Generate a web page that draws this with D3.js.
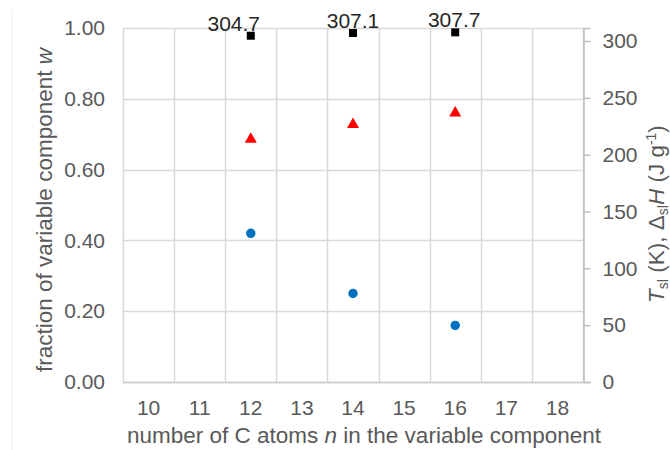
<!DOCTYPE html>
<html>
<head>
<meta charset="utf-8">
<script src="https://cdn.jsdelivr.net/npm/d3@7"></script>
<style>
  html, body { margin: 0; padding: 0; background: #fff; }
  svg { display: block; }
  text { font-family: "Liberation Sans", Arial, sans-serif; }
</style>
</head>
<body>
<svg id="chart" width="670" height="450"></svg>
<script>
// ---- data ----
const categories = [10, 11, 12, 13, 14, 15, 16, 17, 18];
const nValues = [12, 14, 16];
const fractionW = [0.42, 0.25, 0.16];
const deltaH = [215, 228, 238];
const tempT = [304.7, 307.1, 307.7];
const tempLabels = ["304.7", "307.1", "307.7"];
const leftTicks = [0, 0.2, 0.4, 0.6, 0.8, 1.0];
const rightTicks = [0, 50, 100, 150, 200, 250, 300];

// ---- layout ----
const L = 123, R = 583, T = 28, B = 382;
const FS = 21, TFS = 22.5;
const svg = d3.select("#chart");

const x = d3.scaleBand().domain(categories).range([L, R]).padding(0);
const yL = d3.scaleLinear().domain([0, 1]).range([B, T]);
const yR = d3.scaleLinear().domain([0, 311.5]).range([B, T]);

// faint frame line
svg.append("line").attr("x1", 12).attr("x2", 12).attr("y1", 10).attr("y2", 450)
  .attr("stroke", "#ececec").attr("stroke-width", 1);

// horizontal gridlines
svg.append("g").selectAll("line").data(leftTicks).join("line")
  .attr("x1", L).attr("x2", R)
  .attr("y1", d => Math.round(yL(d)) + 0.5).attr("y2", d => Math.round(yL(d)) + 0.5)
  .attr("stroke", "#d9d9d9").attr("stroke-width", 1.5);

// vertical gridlines at band edges
const edges = categories.map(c => x(c)).concat([x(categories[categories.length - 1]) + x.bandwidth()]);
svg.append("g").selectAll("line").data(edges).join("line")
  .attr("x1", d => Math.round(d) + 0.5).attr("x2", d => Math.round(d) + 0.5)
  .attr("y1", T).attr("y2", B)
  .attr("stroke", "#d9d9d9").attr("stroke-width", 1.5);

// bottom axis line
svg.append("line").attr("x1", L).attr("x2", R).attr("y1", B + 0.5).attr("y2", B + 0.5)
  .attr("stroke", "#cccccc").attr("stroke-width", 1.5);

// right axis
const rAxis = d3.axisRight(yR).tickValues(rightTicks).tickSize(7).tickPadding(12).tickFormat(d3.format("d"));
const gR = svg.append("g").attr("transform", `translate(${R + 0.5},0)`).call(rAxis);
gR.select(".domain").attr("stroke", "#bfbfbf").attr("stroke-width", 1.5);
gR.selectAll(".tick line").attr("stroke", "#bfbfbf").attr("stroke-width", 1.5);
gR.selectAll(".tick text").attr("fill", "#595959").style("font-size", FS + "px")
  .style("font-family", "'Liberation Sans', Arial, sans-serif");

// left axis labels
const lAxis = d3.axisLeft(yL).tickValues(leftTicks).tickSize(0).tickPadding(18).tickFormat(d3.format(".2f"));
const gL = svg.append("g").attr("transform", `translate(${L},0)`).call(lAxis);
gL.select(".domain").remove();
gL.selectAll(".tick text").attr("fill", "#595959").style("font-size", FS + "px")
  .style("font-family", "'Liberation Sans', Arial, sans-serif");

// bottom axis labels
const bAxis = d3.axisBottom(x).tickSize(0).tickPadding(18);
const gB = svg.append("g").attr("transform", `translate(0,${B})`).call(bAxis);
gB.select(".domain").remove();
gB.selectAll(".tick text").attr("fill", "#595959").style("font-size", FS + "px")
  .style("font-family", "'Liberation Sans', Arial, sans-serif");

// x title
const xt = svg.append("text").attr("x", 364).attr("y", 443).attr("text-anchor", "middle")
  .attr("fill", "#595959").style("font-size", TFS + "px");
xt.append("tspan").text("number of C atoms ");
xt.append("tspan").style("font-style", "italic").text("n");
xt.append("tspan").text(" in the variable component");

// left title
const yt = svg.append("text").attr("transform", "translate(52,210) rotate(-90)")
  .attr("text-anchor", "middle").attr("fill", "#595959").style("font-size", TFS + "px");
yt.append("tspan").text("fraction of variable component ");
yt.append("tspan").style("font-style", "italic").text("w");

// right title
const rt = svg.append("text").attr("transform", "translate(664,214) rotate(-90)")
  .attr("text-anchor", "middle").attr("fill", "#595959").style("font-size", TFS + "px");
rt.append("tspan").style("font-style", "italic").text("T");
rt.append("tspan").attr("dy", 4).style("font-size", "14px").text("sl");
rt.append("tspan").attr("dy", -4).text(" (K), Δ");
rt.append("tspan").attr("dy", 4).style("font-size", "14px").text("sl");
rt.append("tspan").attr("dy", -4).style("font-style", "italic").text("H");
rt.append("tspan").text(" (J g");
rt.append("tspan").attr("dy", -8).style("font-size", "14px").text("-1");
rt.append("tspan").attr("dy", 8).text(")");

// ---- marks ----
const pts = nValues.map((n, i) => ({ n, w: fractionW[i], h: deltaH[i], t: tempT[i], lab: tempLabels[i], i }));

// blue circles (left axis)
svg.append("g").selectAll("circle").data(pts).join("circle")
  .attr("cx", d => x(d.n) + x.bandwidth() / 2)
  .attr("cy", d => yL(d.w))
  .attr("r", 4.7).attr("fill", "#0070C0");

// red triangles (right axis)
svg.append("g").selectAll("path").data(pts).join("path")
  .attr("d", d => {
    const cx = x(d.n) + x.bandwidth() / 2, cy = yR(d.h);
    return `M${cx},${cy - 5.5}L${cx + 6},${cy + 5}L${cx - 6},${cy + 5}Z`;
  })
  .attr("fill", "#FF0000");

// black squares (right axis)
svg.append("g").selectAll("rect").data(pts).join("rect")
  .attr("x", d => x(d.n) + x.bandwidth() / 2 - 4)
  .attr("y", d => yR(d.t) - 4)
  .attr("width", 8).attr("height", 8).attr("fill", "#000");

// labels above squares
const labelDx = [-17, 0, -1];
svg.append("g").selectAll("text").data(pts).join("text")
  .attr("x", d => x(d.n) + x.bandwidth() / 2 + labelDx[d.i])
  .attr("y", d => yR(d.t) - 5)
  .attr("text-anchor", "middle").attr("fill", "#262626")
  .style("font-size", FS + "px")
  .text(d => d.lab);
</script>
</body>
</html>
